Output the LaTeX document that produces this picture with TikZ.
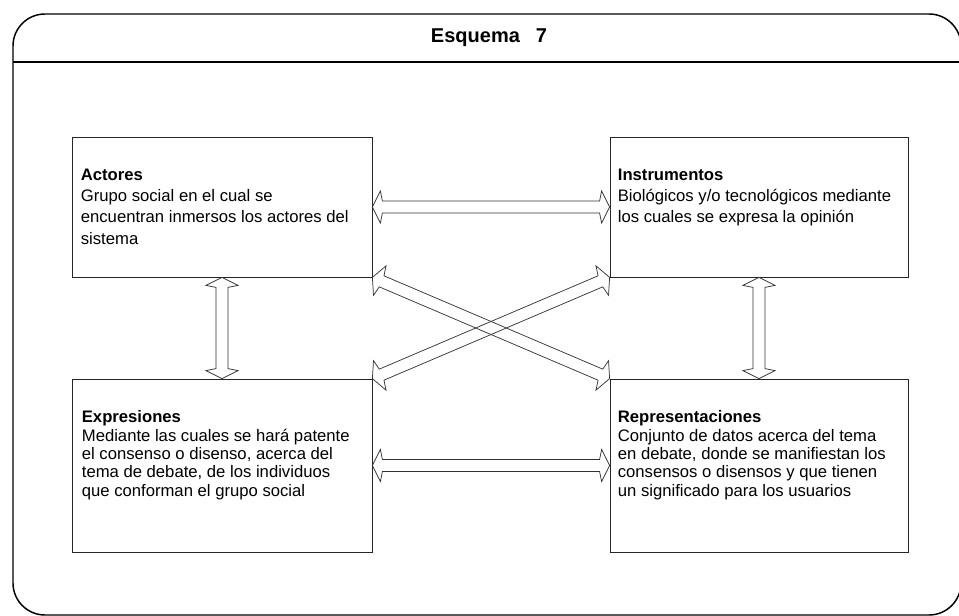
\documentclass[tikz,border=0pt]{standalone}
\usepackage{fontspec}
\setmainfont{Liberation Sans}
\usetikzlibrary{calc}

% hollow double arrow between two points
\newcommand\flecha[2]{%
  \draw[flecha] (#1)
    -- ($(#1)!6pt!(#2)!12pt!90:(#2)$)
    -- ($(#1)!7.5pt!(#2)!4.5pt!90:(#2)$)
    -- ($(#2)!7.5pt!(#1)!4.5pt!-90:(#1)$)
    -- ($(#2)!6pt!(#1)!12pt!-90:(#1)$)
    -- (#2)
    -- ($(#2)!6pt!(#1)!12pt!90:(#1)$)
    -- ($(#2)!7.5pt!(#1)!4.5pt!90:(#1)$)
    -- ($(#1)!7.5pt!(#2)!4.5pt!-90:(#2)$)
    -- ($(#1)!6pt!(#2)!12pt!-90:(#2)$)
    -- cycle;}

\begin{document}
\begin{tikzpicture}[x=0.75pt, y=-0.75pt,
  caja/.style={draw=black!85, line width=0.6pt, inner sep=0},
  texto/.style={anchor=north west, inner sep=0, align=left},
  flecha/.style={draw=black!80, line width=0.55pt, line join=miter}]
  \useasboundingbox (0,0) rectangle (959,616);
  \draw[line width=1.1pt, rounded corners=24pt] (13,14) rectangle (961,615);
  \draw[line width=0.9pt] (13,62) -- (961,62);
  \node[font=\bfseries\fontsize{15}{18}\selectfont] (titulo) at (489,38) {Esquema\hspace{12pt}7};

  \node[caja, minimum width=225pt, minimum height=105pt] (actores) at (222,207) {};
  \node[caja, minimum width=223.5pt, minimum height=105pt] (instrumentos) at (759,207) {};
  \node[caja, minimum width=225pt, minimum height=129.75pt] (expresiones) at (222,465.5) {};
  \node[caja, minimum width=223.5pt, minimum height=129.75pt] (representaciones) at (759,465.5) {};

  \node[texto, font=\fontsize{12.5}{16}\selectfont] (tactores) at ($(actores.north west)+(9,32)$)
    {\textbf{Actores}\\Grupo social en el cual se\\encuentran inmersos los actores del\\sistema};
  \node[texto, font=\fontsize{12.5}{16}\selectfont] (tinstrumentos) at ($(instrumentos.north west)+(8,32)$)
    {\textbf{Instrumentos}\\Biológicos y/o tecnológicos mediante\\los cuales se expresa la opinión};
  \node[texto, font=\fontsize{12.5}{13.7}\selectfont] (texpresiones) at ($(expresiones.north west)+(10,32)$)
    {\textbf{Expresiones}\\Mediante las cuales se hará patente\\el consenso o disenso, acerca del\\tema de debate, de los individuos\\que conforman el grupo social};
  \node[texto, font=\fontsize{12.5}{13.7}\selectfont] (trepresentaciones) at ($(representaciones.north west)+(8,32)$)
    {\textbf{Representaciones}\\Conjunto de datos acerca del tema\\en debate, donde se manifiestan los\\consensos o disensos y que tienen\\un significado para los usuarios};

  \flecha{actores.east}{instrumentos.west}
  \flecha{expresiones.east}{representaciones.west}
  \flecha{actores.south}{expresiones.north}
  \flecha{instrumentos.south}{representaciones.north}
  \flecha{actores.south east}{representaciones.north west}
  \flecha{instrumentos.south west}{expresiones.north east}
\end{tikzpicture}
\end{document}
